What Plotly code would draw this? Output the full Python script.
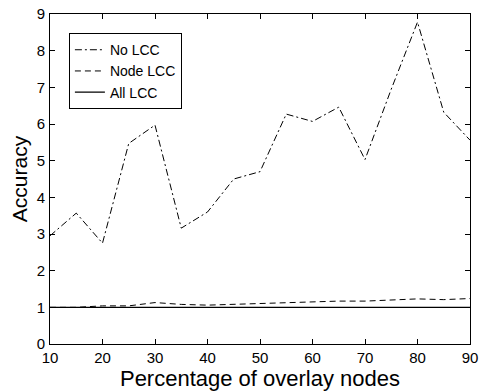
import plotly.graph_objects as go

x_vals = [10, 15, 20, 25, 30, 35, 40, 45, 50, 55, 60, 65, 70, 75, 80, 85, 90]
no_lcc = [2.95, 3.57, 2.75, 5.47, 5.97, 3.16, 3.6, 4.5, 4.7, 6.27, 6.07, 6.46, 5.03, 6.95, 8.78, 6.32, 5.56]
node_lcc = [1.0, 1.0, 1.04, 1.04, 1.13, 1.08, 1.06, 1.08, 1.11, 1.14, 1.15, 1.17, 1.17, 1.19, 1.23, 1.21, 1.24]
all_lcc = [1.0] * len(x_vals)

x_ticks = [10, 20, 30, 40, 50, 60, 70, 80, 90]
y_ticks = [0, 1, 2, 3, 4, 5, 6, 7, 8, 9]

FONT = "Liberation Sans, Arial, Helvetica, sans-serif"

fig = go.Figure()
fig.add_trace(go.Scatter(x=x_vals, y=no_lcc, mode="lines", name="No LCC",
                         line=dict(color="black", width=1, dash="7px,3px,2px,3px")))
fig.add_trace(go.Scatter(x=x_vals, y=node_lcc, mode="lines", name="Node LCC",
                         line=dict(color="black", width=1, dash="6px,4px")))
fig.add_trace(go.Scatter(x=x_vals, y=all_lcc, mode="lines", name="All LCC",
                         line=dict(color="black", width=1.2)))

axis_common = dict(showgrid=False, zeroline=False, showline=True, linecolor="black",
                   linewidth=1, mirror="ticks", ticks="inside", ticklen=5,
                   tickcolor="black", tickwidth=1, automargin=False,
                   tickfont=dict(family=FONT, size=15, color="black"))

fig.update_layout(
    width=481, height=391,
    margin=dict(l=50, r=11, t=14, b=47),
    paper_bgcolor="white", plot_bgcolor="white",
    font=dict(family=FONT, color="black"),
    xaxis=dict(range=[10, 90], tickvals=x_ticks,
               title=dict(text="Percentage of overlay nodes", font=dict(size=22), standoff=2),
               **axis_common),
    yaxis=dict(range=[0, 9], tickvals=y_ticks, ticklabelstandoff=1,
               title=dict(text="Accuracy", font=dict(size=21), standoff=3),
               **axis_common),
    legend=dict(x=0.045, y=0.942, xanchor="left", yanchor="top",
                bordercolor="black", borderwidth=1, bgcolor="white",
                font=dict(family=FONT, size=14, color="black"),
                itemwidth=30, tracegroupgap=0),
    showlegend=True,
)

fig.write_html("out.html", config={"displayModeBar": False},
               post_script="document.body.style.margin='0';")
